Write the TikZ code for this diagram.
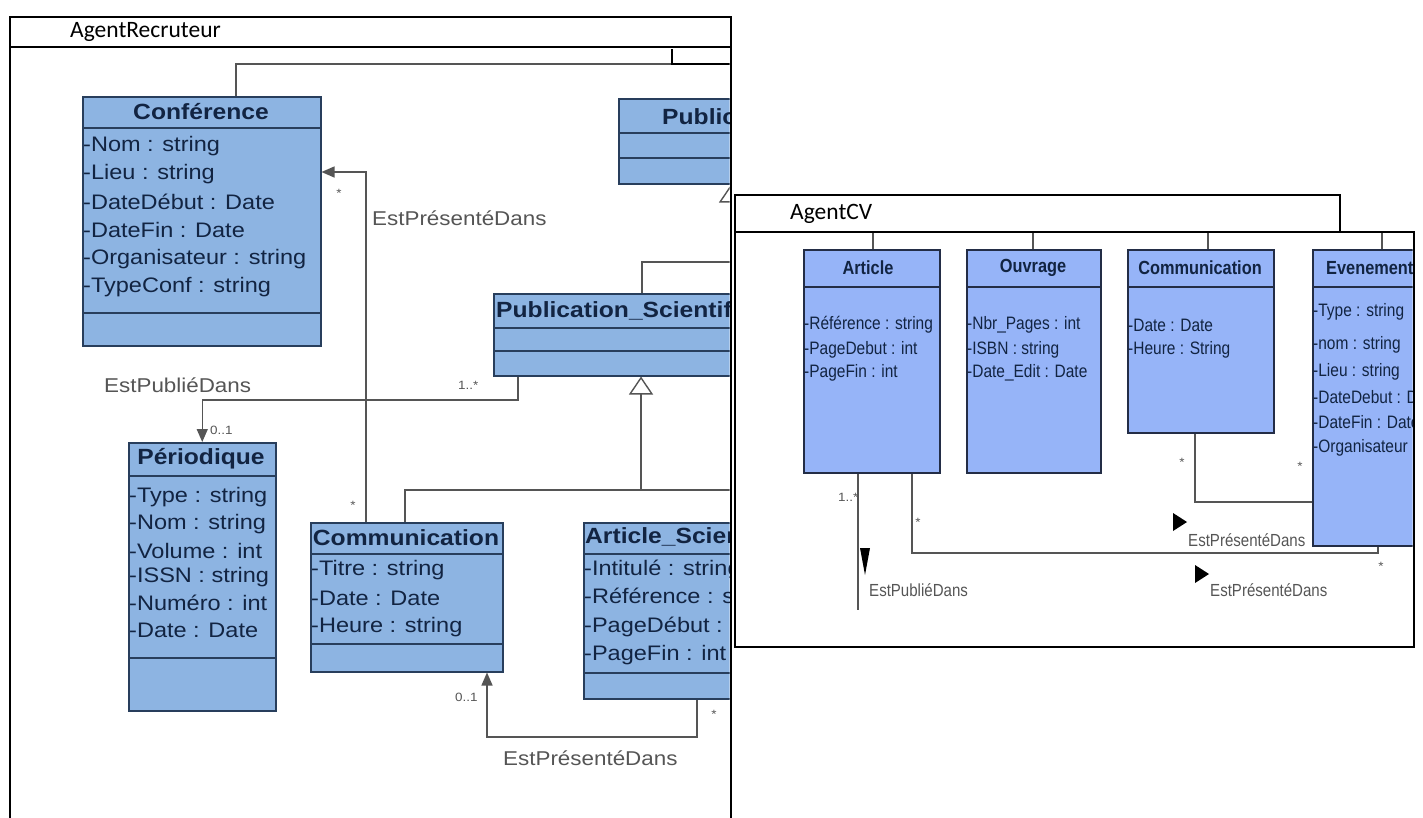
\documentclass[tikz,border=0pt]{standalone}
\usepackage{fontspec}
\setmainfont{Liberation Sans}
\newfontfamily\rufont[FakeStretch=1.12]{Liberation Sans}
\newfontfamily\cvfont[FakeStretch=0.86]{Liberation Sans}
\newfontfamily\framefont{Carlito}
\usetikzlibrary{arrows.meta}

\definecolor{rufill}{RGB}{141,180,226}
\definecolor{ruborder}{RGB}{40,62,92}
\definecolor{cvfill}{RGB}{150,180,248}
\definecolor{cvborder}{RGB}{35,45,70}
\definecolor{wiregray}{RGB}{85,85,85}
\definecolor{navytext}{RGB}{18,36,66}

\begin{document}
\begin{tikzpicture}[x=1pt, y=-1pt, >={Triangle[length=13pt,width=11pt]},
    rubox/.style={draw=ruborder, fill=rufill, line width=1.5pt, anchor=north west, inner sep=0pt},
    cvbox/.style={draw=cvborder, fill=cvfill, line width=1.8pt, anchor=north west, inner sep=0pt},
    rusep/.style={draw=ruborder, line width=1.5pt},
    cvsep/.style={draw=cvborder, line width=1.8pt},
    ruhead/.style={font=\rufont\fontsize{22}{26}\selectfont\bfseries, text=navytext, inner sep=0pt},
    ruattr/.style={font=\rufont\fontsize{21}{25}\selectfont, text=navytext, anchor=west, inner sep=0pt},
    cvhead/.style={font=\cvfont\fontsize{19}{22}\selectfont\bfseries, text=navytext, inner sep=0pt},
    cvattr/.style={font=\cvfont\fontsize{18}{21}\selectfont, text=navytext, anchor=west, inner sep=0pt},
    rulabel/.style={font=\rufont\fontsize{20}{24}\selectfont, text=wiregray, anchor=west, inner sep=0pt},
    cvlabel/.style={font=\cvfont\fontsize{17.5}{20}\selectfont, text=wiregray, anchor=west, inner sep=0pt},
    mult/.style={font=\rufont\fontsize{12}{14}\selectfont, text=wiregray, inner sep=0pt},
    wire/.style={draw=wiregray, line width=1.4pt},
    frame/.style={draw=black, line width=2.6pt},
    gen/.style={-{Triangle[open,length=18pt,width=24pt,fill=white]}}]
\useasboundingbox (0,0) rectangle (1423,817);

% AgentRecruteur frame
\draw[frame] (10,17) rectangle (731,840);
\draw[frame] (10,47) -- (731,47);
\node[font=\framefont\fontsize{23.5}{28}\selectfont, anchor=west, inner sep=0pt] (agrec) at (70,32) {AgentRecruteur};

\begin{scope}
\clip (12,49) rectangle (729.5,817);
% Conference
\node[rubox, minimum width=238pt, minimum height=249pt] (conf) at (82,96) {};
\draw[rusep] (82,128) -- (320,128);
\draw[rusep] (82,313) -- (320,313);
\node[ruhead] (confname) at (201,112) {Conférence};
\node[ruattr] at (83,146) {-Nom : string};
\node[ruattr] at (83,174) {-Lieu : string};
\node[ruattr] at (83,202) {-DateDébut : Date};
\node[ruattr] at (83,230) {-DateFin : Date};
\node[ruattr] at (83,259) {-Organisateur : string};
\node[ruattr] at (83,287) {-TypeConf : string};
% Publication
\node[rubox, minimum width=200pt, minimum height=85pt] (pub) at (618,98) {};
\draw[rusep] (618,133) -- (730,133);
\draw[rusep] (618,158) -- (730,158);
\node[ruhead, anchor=west] (pubname) at (662,117) {Publication};
% Publication_Scientifique
\node[rubox, minimum width=300pt, minimum height=82pt] (pubsci) at (493,293) {};
\draw[rusep] (493,328) -- (730,328);
\draw[rusep] (493,351) -- (730,351);
\node[ruhead, anchor=west] (pubsciname) at (496,312) {Publication\_Scientifique};
% Periodique
\node[rubox, minimum width=147pt, minimum height=268pt] (per) at (128,442) {};
\draw[rusep] (128,476) -- (275,476);
\draw[rusep] (128,658) -- (275,658);
\node[ruhead] (pername) at (201,459) {Périodique};
\node[ruattr] at (129,497) {-Type : string};
\node[ruattr] at (129,524) {-Nom : string};
\node[ruattr] at (129,551) {-Volume : int};
\node[ruattr] at (129,577) {-ISSN : string};
\node[ruattr] at (129,603) {-Numéro : int};
\node[ruattr] at (129,630) {-Date : Date};
% Communication
\node[rubox, minimum width=192pt, minimum height=149pt] (comm) at (310,522) {};
\draw[rusep] (310,554) -- (502,554);
\draw[rusep] (310,644) -- (502,644);
\node[ruhead] (commname) at (406,538) {Communication};
\node[ruattr] at (311,570) {-Titre : string};
\node[ruattr] at (311,598) {-Date : Date};
\node[ruattr] at (311,627) {-Heure : string};
% Article_Scientifique
\node[rubox, minimum width=200pt, minimum height=176pt] (artsci) at (583,522) {};
\draw[rusep] (583,554) -- (730,554);
\draw[rusep] (583,673) -- (730,673);
\node[ruhead, anchor=west] (artsciname) at (585,538) {Article\_Scientifique};
\node[ruattr] at (584,570) {-Intitulé : string};
\node[ruattr] at (584,598) {-Référence : string};
\node[ruattr] at (584,627) {-PageDébut : int};
\node[ruattr] at (584,655) {-PageFin : int};

% links
\coordinate (topjoin) at (672,64);
\draw[wire] (conf.north -| 236,0) |- (topjoin);
\draw[line width=1.8pt] (672,48) -- (topjoin) -- (730,64);
\coordinate (gjoinup) at (731,262);
\draw[wire] (pubsci.north -| 642,0) |- (gjoinup);
\draw[wire, gen] (gjoinup) -- (pub.south -| gjoinup);
\coordinate (gjoin) at (641,490);
\draw[wire] (comm.north -| 405,0) |- (gjoin) -- (730,490);
\draw[wire, gen] (gjoin) -- (pubsci.south -| gjoin);
\draw[wire, ->] (comm.north -| 366,0) |- (conf.east |- 0,172);
\draw[wire, ->] (pubsci.south -| 518,0) -- (518,400) -| (per.north);
\draw[wire, ->] (artsci.south -| 697,0) |- (487,737) -- (comm.south -| 487,0);

% labels
\node[rulabel] (lblconf) at (372,218) {EstPrésentéDans};
\node[rulabel] (lblper) at (104,385) {EstPubliéDans};
\node[rulabel] (lblcomm) at (503,758) {EstPrésentéDans};
\node[mult] at (339,193) {*};
\node[mult] at (353,505) {*};
\node[mult, anchor=west] at (210,430) {0..1};
\node[mult, anchor=west] at (458,385) {1..*};
\node[mult, anchor=west] at (455,697) {0..1};
\node[mult] at (714,714) {*};
\end{scope}

% AgentCV frame
\draw[frame, fill=white] (735,195) rectangle (1340,232);
\draw[frame, fill=white] (735,232) rectangle (1414,647);
\node[font=\framefont\fontsize{23.5}{28}\selectfont, anchor=west, inner sep=0pt] (agcv) at (790,214) {AgentCV};

\begin{scope}
\clip (736.5,233.5) rectangle (1412.5,645.5);
% Article
\node[cvbox, minimum width=136pt, minimum height=223pt] (art) at (803,249) {};
\draw[cvsep] (803,287) -- (939,287);
\node[cvhead] (artname) at (868,268) {Article};
\node[cvattr] at (804,325) {-Référence : string};
\node[cvattr] at (804,350) {-PageDebut : int};
\node[cvattr] at (804,373) {-PageFin : int};
% Ouvrage
\node[cvbox, minimum width=134pt, minimum height=223pt] (ouv) at (966,249) {};
\draw[cvsep] (966,287) -- (1100,287);
\node[cvhead] (ouvname) at (1033,268) {Ouvrage};
\node[cvattr] at (967,325) {-Nbr\_Pages : int};
\node[cvattr] at (967,350) {-ISBN : string};
\node[cvattr] at (967,373) {-Date\_Edit : Date};
% Communication
\node[cvbox, minimum width=146pt, minimum height=183pt] (cvcomm) at (1127,249) {};
\draw[cvsep] (1127,287) -- (1273,287);
\node[cvhead] (cvcommname) at (1200,268) {Communication};
\node[cvattr] at (1128,325) {-Date : Date};
\node[cvattr] at (1128,350) {-Heure : String};
% Evenement
\node[cvbox, minimum width=150pt, minimum height=296pt] (even) at (1312,249) {};
\draw[cvsep] (1312,287) -- (1414,287);
\node[cvhead, anchor=west] (evenname) at (1326,268) {Evenement};
\node[cvattr] at (1313,312) {-Type : string};
\node[cvattr] at (1313,345) {-nom : string};
\node[cvattr] at (1313,372) {-Lieu : string};
\node[cvattr] at (1313,397) {-DateDebut : D};
\node[cvattr] at (1313,422) {-DateFin : Date};
\node[cvattr] at (1313,448) {-Organisateur :};

% links
\draw[wire] (art.north -| 873,0) -- (873,232);
\draw[wire] (ouv.north -| 1033,0) -- (1033,232);
\draw[wire] (cvcomm.north -| 1208,0) -- (1208,232);
\draw[wire] (even.north -| 1382,0) -- (1382,232);
\coordinate (publend) at (858,610);
\draw[wire] (art.south -| 858,0) -- (publend);
\draw[wire] (cvcomm.south -| 1195,0) |- (even.west |- 0,502);
\draw[wire] (art.south -| 912,0) |- (1378,553) -- (even.south -| 1378,0);

% labels
\fill (860,548) -- (870,548) -- (865,575) -- cycle;
\node[cvlabel] (lblcvper) at (869,590) {EstPubliéDans};
\fill (1173,513) -- (1187,522) -- (1173,531) -- cycle;
\node[cvlabel] (lblcvcomm) at (1188,540) {EstPrésentéDans};
\fill (1195,565) -- (1209,574) -- (1195,583) -- cycle;
\node[cvlabel] (lblcvart) at (1210,590) {EstPrésentéDans};
\node[mult, anchor=west] at (838,497) {1..*};
\node[mult] at (918,522) {*};
\node[mult] at (1182,462) {*};
\node[mult] at (1300,466) {*};
\node[mult] at (1381,566) {*};
\end{scope}
\end{tikzpicture}
\end{document}
